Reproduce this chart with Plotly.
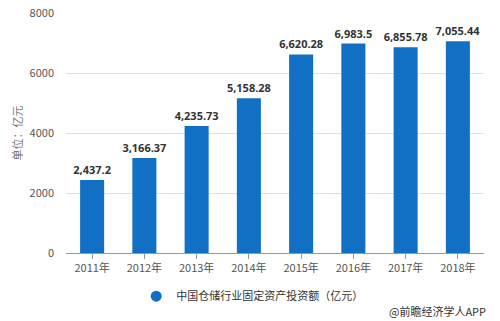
import plotly.graph_objects as go

years = ["2011年", "2012年", "2013年", "2014年", "2015年", "2016年", "2017年", "2018年"]
values = [2437.2, 3166.37, 4235.73, 5158.28, 6620.28, 6983.5, 6855.78, 7055.44]
labels = ["2,437.2", "3,166.37", "4,235.73", "5,158.28", "6,620.28", "6,983.5", "6,855.78", "7,055.44"]
series_name = "中国仓储行业固定资产投资额（亿元）"
y_ticks = [0, 2000, 4000, 6000, 8000]

font = "Noto Sans CJK SC"
bar_color = "#1270C4"

fig = go.Figure()
fig.add_trace(go.Bar(
    x=years, y=values, text=labels, textposition="outside", constraintext="none",
    textfont=dict(family="Open Sans", size=11, color="#333333", weight="bold"),
    marker=dict(color=bar_color, line=dict(width=0)),
    name=series_name, cliponaxis=False, showlegend=False,
))
# legend marker (circle)
fig.add_trace(go.Scatter(
    x=[None], y=[None], mode="markers",
    marker=dict(symbol="circle", size=11, color=bar_color),
    name=series_name, showlegend=True,
))

fig.update_layout(
    width=500, height=321,
    margin=dict(l=66, r=16, t=13, b=68, autoexpand=False),
    paper_bgcolor="white", plot_bgcolor="white",
    bargap=0.54,
    font=dict(family=font, size=11, color="#555555"),
    showlegend=True,
    legend=dict(
        orientation="h", x=0.168, xanchor="left", y=-0.18, yanchor="middle",
        font=dict(family=font, size=11, color="#333333"),
        itemwidth=30,
    ),
    xaxis=dict(
        showline=True, linecolor="#999999", linewidth=1,
        ticks="outside", ticklen=5, tickcolor="#999999",
        tickfont=dict(family=font, size=11, color="#555555"),
        showgrid=False, automargin=False,
    ),
    yaxis=dict(
        range=[0, 8000], tickvals=y_ticks,
        showgrid=True, gridcolor="#E0E0E0", gridwidth=1,
        zeroline=False, showline=False, automargin=False,
        ticks="", ticklabelstandoff=11,
        tickfont=dict(family=font, size=11, color="#555555"),
        title=dict(text="单位：亿元", font=dict(family=font, size=11, color="#777777"), standoff=4),
    ),
    annotations=[dict(
        text="@前瞻经济学人APP", xref="paper", yref="paper",
        x=1.01, y=-0.2, xanchor="right", yanchor="top", showarrow=False,
        font=dict(family=font, size=11, color="#333333"),
    )],
)

fig.write_html("out.html")
